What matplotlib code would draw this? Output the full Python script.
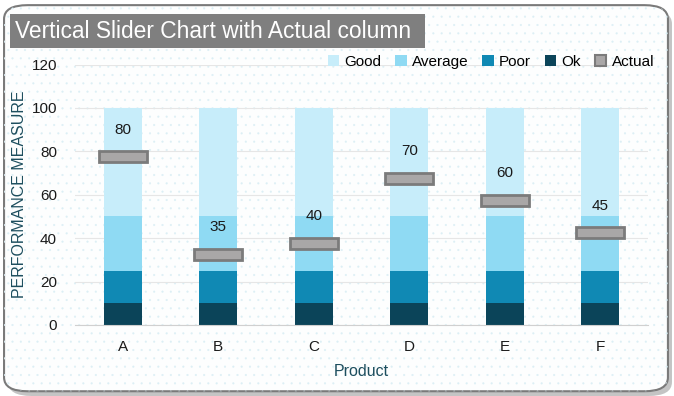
import matplotlib
matplotlib.use('Agg')
from matplotlib import pyplot as plt
from matplotlib.patches import FancyBboxPatch, Rectangle, Patch
import numpy as np

plt.rcParams['font.family'] = ['Liberation Sans', 'DejaVu Sans']
plt.rcParams['hatch.linewidth'] = 0.3

products = ['A', 'B', 'C', 'D', 'E', 'F']
ok = [10, 10, 10, 10, 10, 10]
poor = [15, 15, 15, 15, 15, 15]
average = [25, 25, 25, 25, 25, 25]
good = [50, 50, 50, 50, 50, 50]
actual = [80, 35, 40, 70, 60, 45]
slider_h = 5

c_ok = '#0B4459'
c_poor = '#1089B4'
c_avg = '#8FDAF3'
c_good = '#C7EDFA'
c_act = '#A9A7A7'
c_act_edge = '#7B7B7B'
c_lab = '#1D4E5E'

fig = plt.figure(figsize=(6.74, 3.96), dpi=100)
fig.patch.set_facecolor('white')

# card background with shadow
shadow = FancyBboxPatch((0.012, 0.0), 0.985, 0.975, boxstyle='round,pad=0,rounding_size=0.035',
                        transform=fig.transFigure, facecolor='#8a8a8a', edgecolor='none',
                        alpha=0.5, zorder=-3)
card = FancyBboxPatch((0.006, 0.012), 0.985, 0.975, boxstyle='round,pad=0,rounding_size=0.035',
                      transform=fig.transFigure, facecolor='#FDFEFE', edgecolor='#7a7a7a',
                      linewidth=1.5, zorder=-2)
dots = FancyBboxPatch((0.006, 0.012), 0.985, 0.975, boxstyle='round,pad=0,rounding_size=0.035',
                      transform=fig.transFigure, facecolor='none', edgecolor='#DCEFF5',
                      linewidth=0, hatch='..', zorder=-1)
fig.patches.extend([shadow, card, dots])

# title box
fig.patches.append(Rectangle((10/674, 1-48/396), 415/674, 34/396, transform=fig.transFigure,
                             facecolor='#7F7F7F', edgecolor='none', zorder=1))
fig.text(15/674, 1-31/396, 'Vertical Slider Chart with Actual column', color='white',
         fontsize=16.4, va='center', ha='left', zorder=2)

ax = fig.add_axes([75/674, 71/396, 573/674, 260.5/396])
ax.set_facecolor('none')
x = np.arange(len(products))
w = 0.4

ax.bar(x, ok, w, color=c_ok, zorder=2)
ax.bar(x, poor, w, bottom=ok, color=c_poor, zorder=2)
b2 = np.array(ok) + np.array(poor)
ax.bar(x, average, w, bottom=b2, color=c_avg, zorder=2)
b3 = b2 + np.array(average)
ax.bar(x, good, w, bottom=b3, color=c_good, zorder=2)

act_bottom = np.array(actual) - slider_h
ax.bar(x, slider_h, 0.5, bottom=act_bottom, color=c_act, edgecolor=c_act_edge, linewidth=2, zorder=3)
for xi, v in zip(x, actual):
    ax.text(xi, v + 10, str(v), ha='center', va='center', fontsize=11, color='#1a1a1a', zorder=4)

ax.set_xlim(-0.5, len(products) - 0.5)
ax.set_ylim(0, 120)
ax.set_yticks(range(0, 121, 20))
ax.set_xticks(x)
ax.set_xticklabels(products)
ax.tick_params(axis='both', length=0, labelsize=11, colors='#1a1a1a')
ax.tick_params(axis='x', pad=11)
ax.tick_params(axis='y', pad=13)
ax.grid(axis='y', color='#E6E6E6', linewidth=0.8, zorder=0)
for s in ['top', 'right', 'left']:
    ax.spines[s].set_visible(False)
ax.spines['bottom'].set_color('#D0D0D0')

ax.set_ylabel('PERFORMANCE MEASURE', color=c_lab, fontsize=11.5, labelpad=3)
ax.set_xlabel('Product', color=c_lab, fontsize=11.5, labelpad=7)

handles = [Patch(facecolor=c_good), Patch(facecolor=c_avg), Patch(facecolor=c_poor),
           Patch(facecolor=c_ok), Patch(facecolor=c_act, edgecolor=c_act_edge, linewidth=1.5)]
ax.legend(handles, ['Good', 'Average', 'Poor', 'Ok', 'Actual'], ncol=5, loc='upper right',
          bbox_to_anchor=(1.035, 1.09), frameon=False, fontsize=11, handlelength=0.75,
          handleheight=0.75, handletextpad=0.35, columnspacing=0.9)

fig.savefig('out.png', dpi=100)
